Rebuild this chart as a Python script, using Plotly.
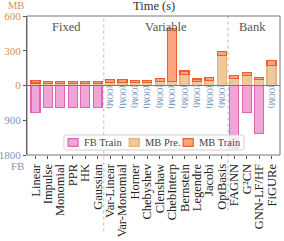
import plotly.graph_objects as go

categories = ["Linear", "Impulse", "Monomial", "PPR", "HK", "Gaussian",
              "Var-Linear", "Var-Monomial", "Horner", "Chebyshev", "Clenshaw",
              "ChebInterp", "Bernstein", "Legendre", "Jacobi", "OptBasis",
              "FAGNN", "G²CN", "GNN-LF/HF", "FiGURe"]
mb_pre = [22, 17, 17, 17, 17, 17, 25, 25, 23, 23, 37, 35, 95, 35, 45, 260, 63, 86, 49, 171]
mb_train = [20, 15, 15, 15, 15, 15, 24, 24, 20, 20, 22, 460, 30, 22, 25, 34, 25, 25, 22, 48]
fb_train = [700, 580, 580, 580, 580, 580, None, None, None, None, None, None, None, None, None, None,
            1620, 690, 1250, None]
oom_cats = ["Var-Linear", "Var-Monomial", "Horner", "Chebyshev", "Clenshaw",
            "ChebInterp", "Bernstein", "Legendre", "Jacobi", "OptBasis", "FiGURe"]
groups = ["Fixed", "Variable", "Bank"]
group_centers = [2.5, 10.5, 17.5]
dividers = [5.5, 15.5]
series_names = ["FB Train", "MB Pre.", "MB Train"]
series_fill = ["#eea6d6", "#ecca9e", "#fba37f"]
series_edge = ["#e064b6", "#e9b47c", "#ea5f2d"]

FONT = "Liberation Serif"
MB_COL = "#d98f4e"
FB_COL = "#7f97b0"

fig = go.Figure()
fig.add_trace(go.Bar(x=categories, y=fb_train, name=series_names[0], xaxis="x", yaxis="y2",
                     marker=dict(color=series_fill[0], line=dict(color=series_edge[0], width=1.2)), width=0.72))
fig.add_trace(go.Bar(x=categories, y=mb_pre, name=series_names[1], xaxis="x", yaxis="y",
                     marker=dict(color=series_fill[1], line=dict(color=series_edge[1], width=1.2)), width=0.72))
fig.add_trace(go.Bar(x=categories, y=mb_train, name=series_names[2], xaxis="x", yaxis="y",
                     marker=dict(color=series_fill[2], line=dict(color=series_edge[2], width=1.2)), width=0.72))

shapes = [dict(type="rect", xref="paper", yref="paper", x0=0, x1=1, y0=0, y1=1,
               line=dict(color="#777", width=1), layer="above"),
          dict(type="line", xref="paper", yref="paper", x0=0, x1=1, y0=0.5, y1=0.5,
               line=dict(color="#777", width=1.2), layer="above")]
for i, d in enumerate(dividers):
    shapes.append(dict(type="line", xref="x", yref="paper", x0=d, x1=d, y0=-0.55 if i == 0 else -0.4, y1=1,
                       line=dict(color="#bbb", width=1, dash="dot"), layer="below"))

annotations = []
for g, c in zip(groups, group_centers):
    annotations.append(dict(x=c, y=0.985, xref="x", yref="paper", text=g, showarrow=False,
                            yanchor="top", font=dict(family=FONT, size=12.5, color="#555")))
for c in oom_cats:
    annotations.append(dict(x=c, y=300, xref="x", yref="y2", text="(OOM)", showarrow=False,
                            textangle=90, font=dict(family=FONT, size=7.5, color="#6a8cb4")))
annotations.append(dict(x=0.5, y=1, xref="paper", yref="paper", yanchor="bottom", yshift=1,
                        text="Time (s)", showarrow=False, font=dict(family=FONT, size=12.5, color="#333")))
annotations.append(dict(x=0, y=1, xref="paper", yref="paper", xanchor="right", yanchor="bottom",
                        xshift=-1, yshift=3, text="MB", showarrow=False,
                        font=dict(family=FONT, size=10.5, color=MB_COL)))
annotations.append(dict(x=0, y=0, xref="paper", yref="paper", xanchor="right", yanchor="top",
                        xshift=-1, yshift=-3, text="FB", showarrow=False,
                        font=dict(family=FONT, size=11, color=FB_COL)))

# compact legend box (rounded frame, swatches and labels) inside the plot area
lx0, lx1, ly0, ly1, rx, ry = 0.146, 0.858, 0.036, 0.144, 0.01, 0.018
legend_path = (f"M {lx0+rx},{ly0} L {lx1-rx},{ly0} Q {lx1},{ly0} {lx1},{ly0+ry} "
               f"L {lx1},{ly1-ry} Q {lx1},{ly1} {lx1-rx},{ly1} L {lx0+rx},{ly1} "
               f"Q {lx0},{ly1} {lx0},{ly1-ry} L {lx0},{ly0+ry} Q {lx0},{ly0} {lx0+rx},{ly0} Z")
shapes.append(dict(type="path", xref="paper", yref="paper", path=legend_path,
                   line=dict(color="#d0d0d0", width=1), fillcolor="rgba(255,255,255,0.8)", layer="above"))
sw_x = [0.162, 0.404, 0.617]
for name, fc, ec, sx in zip(series_names, series_fill, series_edge, sw_x):
    shapes.append(dict(type="rect", xref="paper", yref="paper", x0=sx, x1=sx + 0.04, y0=0.062, y1=0.118,
                       line=dict(color=ec, width=1.2), fillcolor=fc, layer="above"))
    annotations.append(dict(x=sx + 0.056, y=0.09, xref="paper", yref="paper", xanchor="left",
                            yanchor="middle", text=name, showarrow=False,
                            font=dict(family=FONT, size=10.5, color="#444")))

fig.update_layout(
    width=284, height=241,
    margin=dict(l=27, r=4, t=16, b=86, autoexpand=False),
    paper_bgcolor="white", plot_bgcolor="white",
    barmode="stack", bargap=0.28,
    font=dict(family=FONT, size=11, color="#333"),
    showlegend=False,
    xaxis=dict(domain=[0, 1], anchor="y2", range=[-0.68, 19.68], categoryorder="array",
               categoryarray=categories, tickmode="array", tickvals=categories, ticktext=categories,
               tickangle=-90, ticks="outside", ticklen=3,
               tickcolor="#555", tickfont=dict(family=FONT, size=12.5, color="#222"),
               showgrid=False, showline=False, zeroline=False, automargin=False),
    yaxis=dict(domain=[0.5, 1], range=[0, 600], tickvals=[0, 300, 600], ticks="outside",
               ticklen=3, tickcolor="#555", tickfont=dict(family=FONT, size=11, color=MB_COL),
               showgrid=False, zeroline=False, showline=True, linecolor="#555", linewidth=1.2,
               automargin=False),
    yaxis2=dict(domain=[0, 0.5], range=[1800, 0], tickvals=[900, 1800], ticks="outside",
                ticklen=3, tickcolor="#555", tickfont=dict(family=FONT, size=11, color=FB_COL),
                showgrid=False, zeroline=False, showline=True, linecolor="#555", linewidth=1.2,
                anchor="x", automargin=False),
    shapes=shapes, annotations=annotations,
)

fig.write_html("out.html", config={"displayModeBar": False},
               post_script="document.body.style.margin='0';")
